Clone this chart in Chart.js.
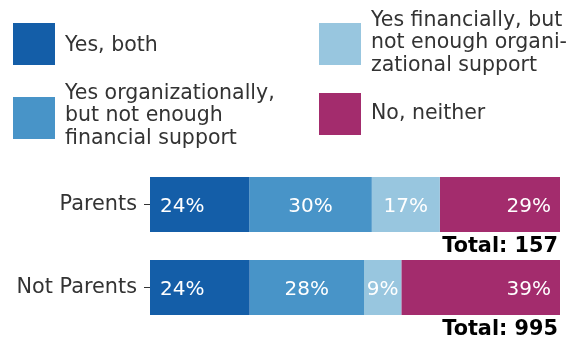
<!DOCTYPE html>
<html>
<head>
<meta charset="utf-8" />
<title>Support by parent status</title>
<script src="https://cdn.jsdelivr.net/npm/chart.js@4"></script>
<style>
    html, body {
        margin: 0;
        padding: 0;
        background: #fff;
    }
    #wrap {
        position: relative;
        width: 576px;
        height: 343px;
        font-family: "DejaVu Sans", sans-serif;
        color: #333;
    }
    #myChart {
        display: block;
    }
    #legend .sw {
        position: absolute;
        width: 42px;
        height: 42px;
    }
    #legend .txt {
        position: absolute;
        font-size: 20.5px;
        line-height: 22.5px;
        white-space: nowrap;
    }
</style>
</head>
<body>
<div id="wrap">
    <canvas id="myChart" width="576" height="343"></canvas>
    <div id="legend"></div>
</div>

<script>
// data
var groups = ['Parents', 'Not Parents'];
var totals = [157, 995];
var answers = [
    ['Yes, both'],
    ['Yes organizationally,', 'but not enough', 'financial support'],
    ['Yes financially, but', 'not enough organi-', 'zational support'],
    ['No, neither']
];
var yesBoth = [24.2, 24.3];
var yesOrg = [29.9, 27.9];
var yesFin = [16.6, 9.1];
var noNeither = [29.3, 38.7];

var colors = ['#145ea8', '#4894c8', '#98c6df', '#a32c6d'];
var series = [yesBoth, yesOrg, yesFin, noNeither];

// legend spots: [swatch left, swatch top, first text line top]
var legendSpots = [[13, 23, 33], [13, 97, 80.5], [319, 23, 7.5], [319, 93, 100.5]];

var legendDiv = document.getElementById('legend');
answers.forEach(function (lines, i) {
    var sw = document.createElement('div');
    sw.className = 'sw';
    sw.style.left = legendSpots[i][0] + 'px';
    sw.style.top = legendSpots[i][1] + 'px';
    sw.style.background = colors[i];
    legendDiv.appendChild(sw);

    var txt = document.createElement('div');
    txt.className = 'txt';
    txt.style.left = (legendSpots[i][0] + 52) + 'px';
    txt.style.top = legendSpots[i][2] + 'px';
    txt.innerHTML = lines.join('<br>');
    legendDiv.appendChild(txt);
});

// percent labels inside bars + totals under bars
var barLabels = {
    id: 'barLabels',
    afterDatasetsDraw: function (chart) {
        var ctx = chart.ctx;
        var n = chart.data.datasets.length;
        ctx.save();
        ctx.font = '20px "DejaVu Sans"';
        ctx.fillStyle = '#fff';
        for (var d = 0; d < n; d++) {
            var meta = chart.getDatasetMeta(d);
            meta.data.forEach(function (bar, j) {
                var v = Math.round(chart.data.datasets[d].data[j]) + '%';
                var x;
                if (d === 0) {
                    ctx.textAlign = 'left';
                    x = bar.base + 10;
                } else if (d === n - 1) {
                    ctx.textAlign = 'right';
                    x = bar.x - 9;
                } else {
                    ctx.textAlign = 'center';
                    x = (bar.base + bar.x) / 2;
                }
                ctx.fillText(v, x, bar.y + 7);
            });
        }
        // totals
        ctx.font = 'bold 20.8px "DejaVu Sans"';
        ctx.fillStyle = '#000';
        ctx.textAlign = 'right';
        var last = chart.getDatasetMeta(n - 1);
        last.data.forEach(function (bar, j) {
            ctx.fillText('Total: ' + totals[j], chart.chartArea.right - 2, bar.y + bar.height / 2 + 19.5);
        });
        ctx.restore();
    }
};

var ctx = document.getElementById('myChart').getContext('2d');
var chart = new Chart(ctx, {
    type: 'bar',
    data: {
        labels: groups,
        datasets: series.map(function (vals, i) {
            return {
                label: answers[i].join(' '),
                data: vals,
                backgroundColor: colors[i],
                borderWidth: 0,
                barPercentage: 0.663,
                categoryPercentage: 1
            };
        })
    },
    options: {
        indexAxis: 'y',
        responsive: false,
        animation: false,
        layout: {
            padding: { top: 163, bottom: 14, left: 0, right: 16 }
        },
        plugins: {
            legend: { display: false },
            tooltip: { enabled: false }
        },
        scales: {
            x: {
                stacked: true,
                display: false,
                min: 0,
                max: 100
            },
            y: {
                stacked: true,
                border: { display: false },
                grid: {
                    offset: false,
                    drawOnChartArea: false,
                    drawTicks: true,
                    tickLength: 6,
                    color: '#333'
                },
                ticks: {
                    padding: 7,
                    color: '#333',
                    font: { family: 'DejaVu Sans', size: 20.8 }
                },
                afterFit: function (scale) {
                    scale.width = 150;
                    scale.paddingTop = 0;
                    scale.paddingBottom = 0;
                }
            }
        }
    },
    plugins: [barLabels]
});
</script>
</body>
</html>
